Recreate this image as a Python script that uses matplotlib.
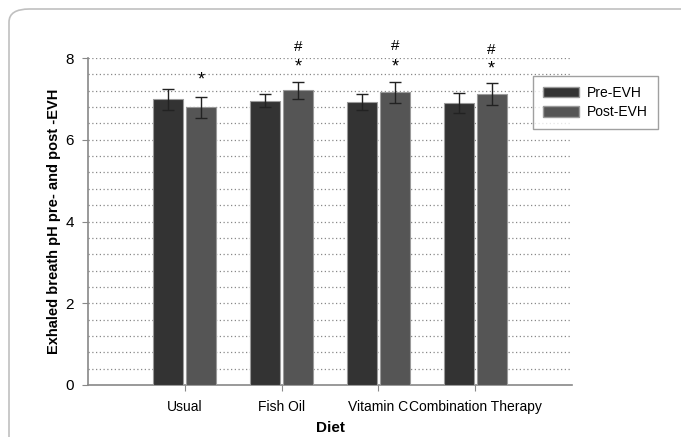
import matplotlib
matplotlib.use("Agg")
import matplotlib.pyplot as plt
import numpy as np
from matplotlib.patches import FancyBboxPatch, Patch

plt.rcParams['font.family'] = ['Liberation Sans', 'DejaVu Sans']

categories = ["Usual", "Fish Oil", "Vitamin C", "Combination Therapy"]
pre_vals = [6.99, 6.96, 6.93, 6.90]
pre_err = [0.26, 0.17, 0.20, 0.25]
post_vals = [6.79, 7.21, 7.16, 7.12]
post_err = [0.26, 0.21, 0.26, 0.28]
star_y = [7.46, 7.78, 7.77, 7.72]
hash_labels = ["", "#", "#", "#"]
hash_y = [None, 8.27, 8.29, 8.19]
series_names = ["Pre-EVH", "Post-EVH"]

W, H = 681, 437
fig = plt.figure(figsize=(W/100, H/100), dpi=100)

# rounded border (top and left visible)
border = FancyBboxPatch((9/W, -0.1), 1.2, 1.1 - 9/H,
                        boxstyle="round,pad=0,rounding_size=0.03",
                        transform=fig.transFigure, fill=False,
                        edgecolor="#c0c0c0", linewidth=1.2)
fig.patches.append(border)

ax = fig.add_axes([88/W, 1 - 385/H, (572-88)/W, (385-58)/H])

x = np.arange(len(categories))
bw = 0.31
gap = 0.015
ax.bar(x - bw/2 - gap, pre_vals, bw, color="#333333", edgecolor="#9a9a9a",
       linewidth=0.8, zorder=3, label=series_names[0])
ax.bar(x + bw/2 + gap, post_vals, bw, color="#555555", edgecolor="#9a9a9a",
       linewidth=0.8, zorder=3, label=series_names[1])
ax.errorbar(x - bw/2 - gap, pre_vals, yerr=pre_err, fmt="none", ecolor="#222222",
            elinewidth=1, capsize=4.5, capthick=1, zorder=4)
ax.errorbar(x + bw/2 + gap, post_vals, yerr=post_err, fmt="none", ecolor="#222222",
            elinewidth=1, capsize=4.5, capthick=1, zorder=4)

for i in range(len(categories)):
    xp = x[i] + bw/2 + gap
    ax.text(xp, star_y[i], "*", ha="center", va="center", fontsize=13, clip_on=False)
    if hash_labels[i]:
        ax.text(xp, hash_y[i], hash_labels[i], ha="center", va="center",
                fontsize=11, clip_on=False)

ax.set_xlim(-1, 4)
ax.set_ylim(0, 8)
ax.set_yticks([0, 2, 4, 6, 8])
ax.set_xticks(x)
ax.set_xticklabels(categories, fontsize=10)
ax.tick_params(axis='y', labelsize=11, length=4, color="#888888", pad=6)
ax.tick_params(axis='x', length=4, color="#888888", pad=7)

for yv in np.arange(0.4, 8.01, 0.4):
    ax.axhline(yv, color="#888888", linestyle=(0, (1, 2)), linewidth=0.9, zorder=1)

for s in ["top", "right"]:
    ax.spines[s].set_visible(False)
for s in ["left", "bottom"]:
    ax.spines[s].set_color("#888888")
    ax.spines[s].set_linewidth(1.2)

ax.set_xlabel("Diet", fontsize=11, fontweight="bold", labelpad=5)
ax.set_ylabel("Exhaled breath pH pre- and post -EVH", fontsize=10.5,
              fontweight="bold", labelpad=3)

handles = [Patch(facecolor="#333333", edgecolor="#9a9a9a"),
           Patch(facecolor="#555555", edgecolor="#9a9a9a")]
leg = fig.legend(handles, series_names, loc="upper left",
                 bbox_to_anchor=(533/W, 1 - 76/H), fontsize=10,
                 frameon=True, fancybox=False, edgecolor="#888888",
                 handlelength=2.6, handleheight=0.8, borderpad=0.7,
                 labelspacing=0.4, handletextpad=0.6, borderaxespad=0)
leg.get_frame().set_linewidth(1.0)

fig.savefig("out.png", dpi=100)
